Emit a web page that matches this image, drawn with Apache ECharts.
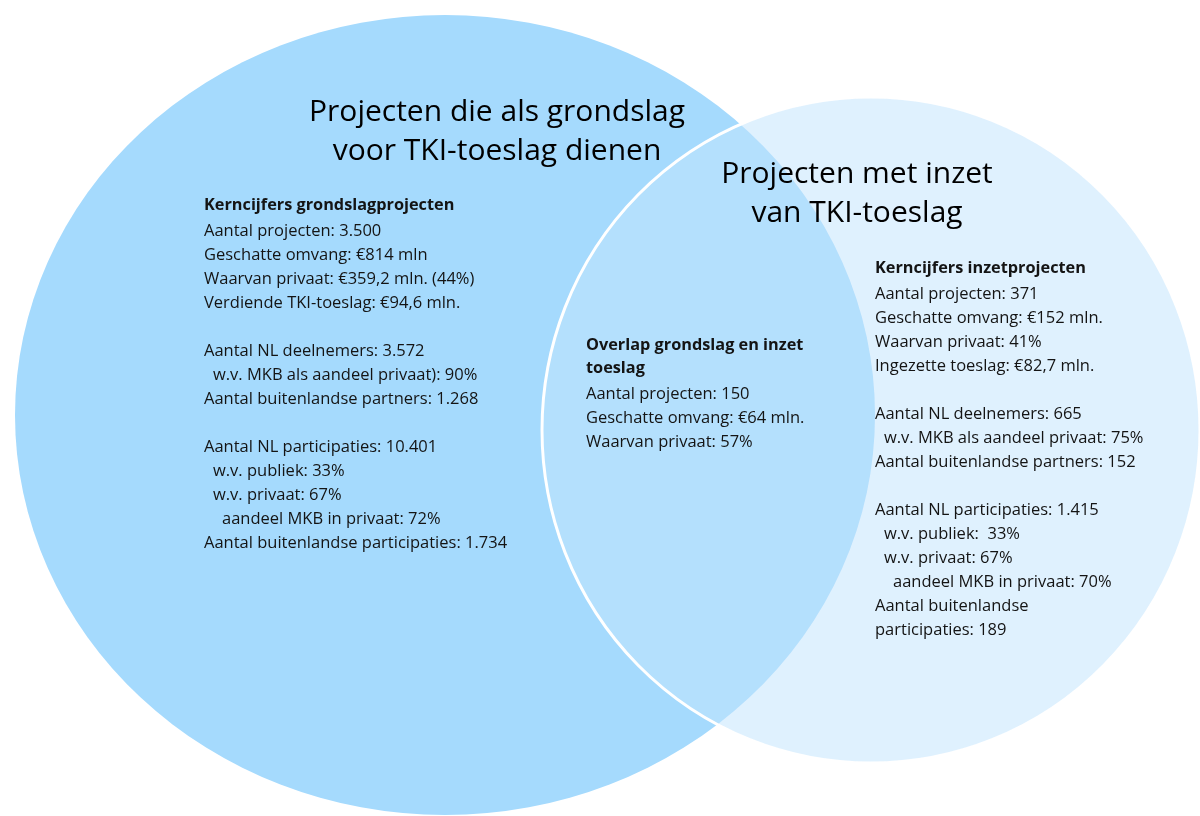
<!DOCTYPE html>
<html>
<head>
<meta charset="utf-8">
<script src="https://cdn.jsdelivr.net/npm/echarts@6/dist/echarts.min.js"></script>
<style>
  html, body { margin: 0; padding: 0; background: #fff; }
  #main { width: 1200px; height: 816px; }
</style>
</head>
<body>
<div id="main"></div>
<script>
// set titles
const setTitles = [
  "Projecten die als grondslag\nvoor TKI-toeslag dienen",
  "Projecten met inzet\nvan TKI-toeslag"
];

// key figures per region (first entry = heading, "" = empty line)
const grondslagHeading = ["Kerncijfers grondslagprojecten"];
const grondslagLines = [
  "Aantal projecten: 3.500",
  "Geschatte omvang: €814 mln",
  "Waarvan privaat: €359,2 mln. (44%)",
  "Verdiende TKI-toeslag: €94,6 mln.",
  "",
  "Aantal NL deelnemers: 3.572",
  "  w.v. MKB als aandeel privaat): 90%",
  "Aantal buitenlandse partners: 1.268",
  "",
  "Aantal NL participaties: 10.401",
  "  w.v. publiek: 33%",
  "  w.v. privaat: 67%",
  "    aandeel MKB in privaat: 72%",
  "Aantal buitenlandse participaties: 1.734"
];

const overlapHeading = ["Overlap grondslag en inzet", "toeslag"];
const overlapLines = [
  "Aantal projecten: 150",
  "Geschatte omvang: €64 mln.",
  "Waarvan privaat: 57%"
];

const inzetHeading = ["Kerncijfers inzetprojecten"];
const inzetLines = [
  "Aantal projecten: 371",
  "Geschatte omvang: €152 mln.",
  "Waarvan privaat: 41%",
  "Ingezette toeslag: €82,7 mln.",
  "",
  "Aantal NL deelnemers: 665",
  "  w.v. MKB als aandeel privaat: 75%",
  "Aantal buitenlandse partners: 152",
  "",
  "Aantal NL participaties: 1.415",
  "  w.v. publiek:  33%",
  "  w.v. privaat: 67%",
  "    aandeel MKB in privaat: 70%",
  "Aantal buitenlandse",
  "participaties: 189"
];

// layout (in pixel-like axis units)
const setShapes = [
  [445, 415, 430, 400],
  [871, 430, 329, 333]
];
const titleAnchors = [[497, 132], [857, 194]];
const blockAnchors = [[204, 205], [586, 345], [875, 268]];

const FONT = "'Open Sans', 'Noto Sans', sans-serif";
const TEXT = "#141414";

const blocks = [
  [grondslagHeading, grondslagLines],
  [overlapHeading, overlapLines],
  [inzetHeading, inzetLines]
];

const chart = echarts.init(document.getElementById("main"));

chart.setOption({
  animation: false,
  grid: { left: 0, right: 0, top: 0, bottom: 0 },
  xAxis: { type: "value", min: 0, max: 1200, show: false },
  yAxis: { type: "value", min: 0, max: 816, inverse: true, show: false },
  series: [
    {
      type: "custom",
      name: "sets",
      coordinateSystem: "cartesian2d",
      data: setShapes,
      renderItem: function (params, api) {
        const c = api.coord([api.value(0), api.value(1)]);
        const s = api.size([api.value(2), api.value(3)]);
        const first = params.dataIndex === 0;
        return {
          type: "circle",
          x: c[0],
          y: c[1],
          scaleX: s[0] / s[1],
          scaleY: 1,
          shape: { cx: 0, cy: 0, r: s[1] },
          style: first
            ? { fill: "#a5dafd" }
            : { fill: "rgba(194,228,253,0.53)", stroke: "#ffffff", lineWidth: 3 }
        };
      }
    },
    {
      type: "custom",
      name: "titles",
      coordinateSystem: "cartesian2d",
      data: titleAnchors.map((p, i) => [p[0], p[1], i]),
      renderItem: function (params, api) {
        const c = api.coord([api.value(0), api.value(1)]);
        return {
          type: "text",
          x: c[0],
          y: c[1],
          style: {
            text: setTitles[params.dataIndex],
            font: "30px " + FONT,
            fill: "#000",
            align: "center",
            verticalAlign: "middle",
            lineHeight: 39
          }
        };
      }
    },
    {
      type: "custom",
      name: "figures",
      coordinateSystem: "cartesian2d",
      data: blockAnchors.map((p, i) => [p[0], p[1], i]),
      renderItem: function (params, api) {
        const c = api.coord([api.value(0), api.value(1)]);
        const heading = blocks[params.dataIndex][0];
        const lines = blocks[params.dataIndex][1];
        const children = [];
        let y = 0;
        heading.forEach(function (t, i) {
          children.push({
            type: "text", x: 0, y: y,
            style: { text: t, font: "bold 16.3px " + FONT, fill: TEXT, verticalAlign: "middle" }
          });
          y += (i < heading.length - 1) ? 23 : 26;
        });
        lines.forEach(function (t) {
          const lead = t.length - t.replace(/^ +/, "").length;
          if (t.trim()) {
            children.push({
              type: "text", x: lead * 4.5, y: y,
              style: { text: t.trim(), font: "16.5px " + FONT, fill: TEXT, verticalAlign: "middle" }
            });
          }
          y += 24;
        });
        return { type: "group", x: c[0], y: c[1], children: children };
      }
    }
  ]
});
</script>
</body>
</html>
